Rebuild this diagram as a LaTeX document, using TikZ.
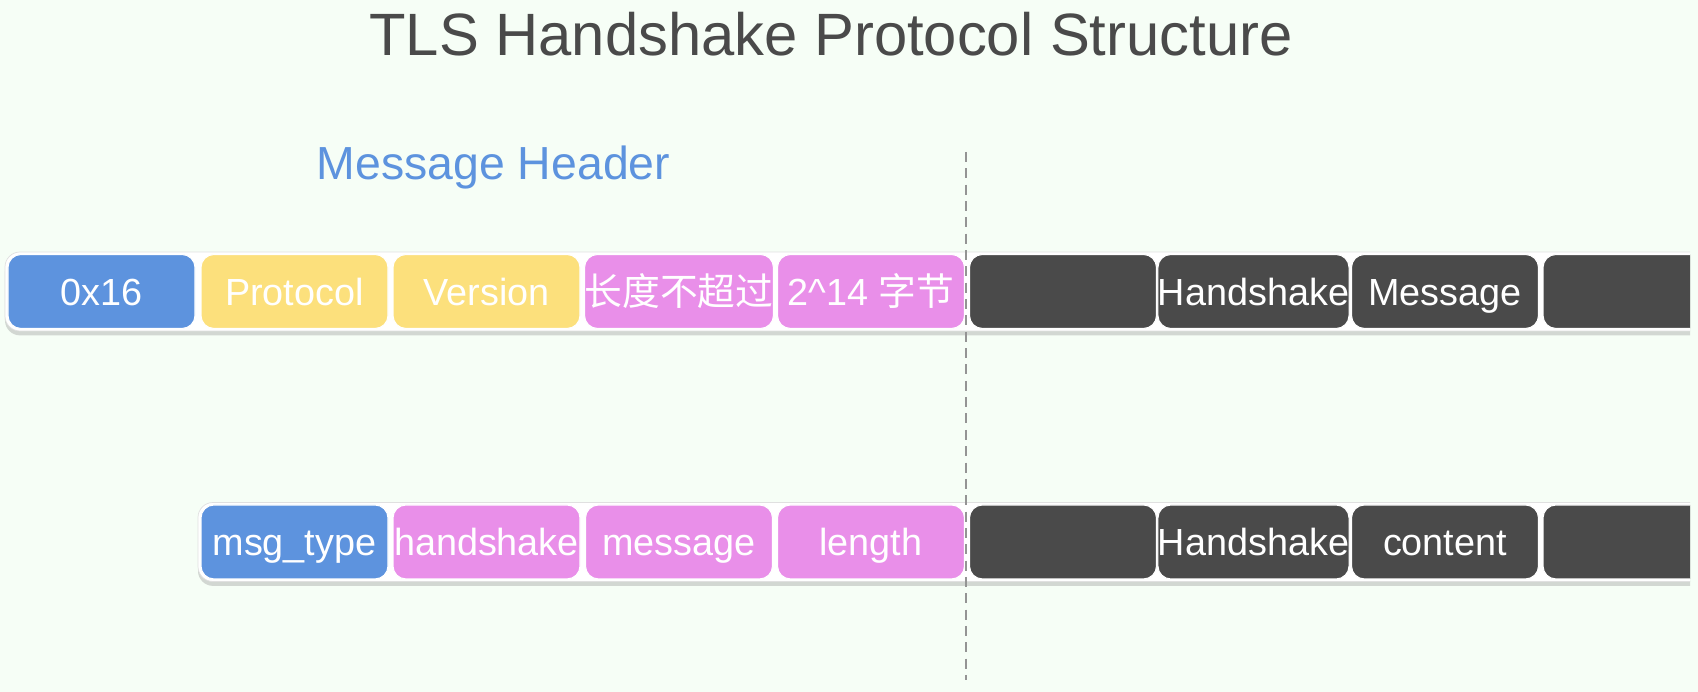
\documentclass[tikz,border=0pt]{standalone}
\usepackage{fontspec}
\setmainfont{Liberation Sans}
\newfontfamily\cjk{Noto Sans CJK SC}
\usetikzlibrary{shadows}

\begin{document}
\begin{tikzpicture}[
    cellbox/.style={shape=rectangle,rounded corners=0.26cm,draw=white,line width=0.6pt,text=white,minimum width=3.74cm,minimum height=1.48cm,inner sep=0pt,text height=0.56cm,text depth=0cm,font=\fontsize{21.5}{24}\selectfont},
    stripbox/.style={shape=rectangle,rounded corners=0.3cm,fill=white,draw=black!12,line width=0.4pt,drop shadow={shadow xshift=0pt,shadow yshift=-2.5pt,opacity=0.3}}
  ]
    \definecolor{tls_bg}{RGB}{246,254,246}
    \definecolor{tls_title}{RGB}{74,74,74}
    \definecolor{tls_blue}{RGB}{93,147,222}
    \definecolor{tls_yellow}{RGB}{252,224,124}
    \definecolor{tls_pink}{RGB}{233,143,233}
    \definecolor{tls_dark}{RGB}{74,74,74}
    \useasboundingbox[fill=tls_bg] (0,0) rectangle (33.96,13.84);
    \node[text=tls_title,font=\fontsize{34}{40}\selectfont] (title) at (16.62,13.15) {TLS Handshake Protocol Structure};
    \node[text=tls_blue,font=\fontsize{26.4}{30}\selectfont] (hdr) at (9.87,10.49) {Message Header};
    \begin{scope}
    \clip (0,0) rectangle (33.8,13.84);
    % record layer
    \node[stripbox,minimum width=34.4cm,minimum height=1.58cm] (recstrip) at (17.3,8.01) {};
    \node[cellbox,fill=tls_blue]   (rec0x16) at (2.03,8.01)  {0x16};
    \node[cellbox,fill=tls_yellow] (recprot) at (5.89,8.01)  {Protocol};
    \node[cellbox,fill=tls_yellow] (recver)  at (9.73,8.01)  {Version};
    \node[cellbox,fill=tls_pink]   (reclenA) at (13.58,8.01) {\cjk 长度不超过};
    \node[cellbox,fill=tls_pink]   (reclenB) at (17.42,8.01) {2\textasciicircum14 {\cjk 字节}};
    \node[cellbox,fill=tls_dark]   (recmsgA) at (21.26,8.01) {};
    \node[cellbox,fill=tls_dark]   (recmsgB) at (25.07,8.01) {Handshake};
    \node[cellbox,fill=tls_dark]   (recmsgC) at (28.90,8.01) {Message};
    \node[cellbox,fill=tls_dark]   (recmsgD) at (32.73,8.01) {};
    % handshake layer
    \node[stripbox,minimum width=30.54cm,minimum height=1.58cm] (hsstrip) at (19.23,3.0) {};
    \node[cellbox,fill=tls_blue]   (hstype)  at (5.89,3.0)  {msg\_type};
    \node[cellbox,fill=tls_pink]   (hslenA)  at (9.73,3.0)  {handshake};
    \node[cellbox,fill=tls_pink]   (hslenB)  at (13.58,3.0) {message};
    \node[cellbox,fill=tls_pink]   (hslenC)  at (17.42,3.0) {length};
    \node[cellbox,fill=tls_dark]   (hsbodyA) at (21.26,3.0) {};
    \node[cellbox,fill=tls_dark]   (hsbodyB) at (25.07,3.0) {Handshake};
    \node[cellbox,fill=tls_dark]   (hsbodyC) at (28.90,3.0) {content};
    \node[cellbox,fill=tls_dark]   (hsbodyD) at (32.73,3.0) {};
    \end{scope}
    \coordinate (sepTop) at (19.32,10.8);
    \coordinate (sepBot) at (19.32,0.24);
    \draw[color=black!42,line width=1.4pt,dash pattern=on 5.7pt off 3.6pt] (sepTop) -- (sepBot);
\end{tikzpicture}
\end{document}
